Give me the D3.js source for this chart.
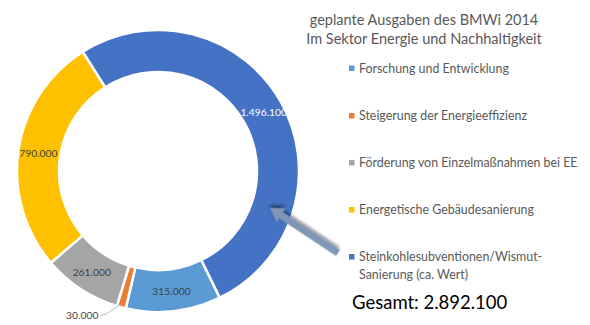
<!DOCTYPE html>
<html><head><meta charset="utf-8">
<script src="https://cdn.jsdelivr.net/npm/d3@7"></script>
<style>body{margin:0;background:#fff}svg{display:block}text{font-family:Lato,"Open Sans",sans-serif}</style>
</head><body><svg id="c" width="590" height="325"></svg>
<script>
const categories = ["Forschung und Entwicklung","Steigerung der Energieeffizienz","Förderung von Einzelmaßnahmen bei EE","Energetische Gebäudesanierung","Steinkohlesubventionen/Wismut-Sanierung (ca. Wert)"];
const values = [315000, 30000, 261000, 790000, 1496100];
const labels = ["315.000","30.000","261.000","790.000","1.496.100"];
const colors = ["#5b9bd5","#ed7d31","#a5a5a5","#ffc000","#4472c4"];
const titleLines = ["geplante Ausgaben des BMWi 2014","Im Sektor Energie und Nachhaltigkeit"];
const totalLabel = "Gesamt: 2.892.100";

const svg = d3.select("#c");
const cx = 158, cy = 171, R = 141, r = 99;
const startA = 154 * Math.PI / 180;
const pie = d3.pie().sort(null).value(d => d).startAngle(startA).endAngle(startA + 2*Math.PI);
const arcs = pie(values);
const arc = d3.arc().innerRadius(r).outerRadius(R);
const g = svg.append("g").attr("transform", `translate(${cx},${cy})`);
g.selectAll("path").data(arcs).join("path")
  .attr("d", arc).attr("fill", (d,i) => colors[i])
  .attr("stroke", "#fff").attr("stroke-width", 2.5);

// data labels
const lblArc = d3.arc().innerRadius((R + r)/2 + 1).outerRadius((R + r)/2 + 1);
arcs.forEach((d, i) => {
  if (i === 1) return;
  const [x, y] = lblArc.centroid(d);
  g.append("text").attr("x", x).attr("y", y).attr("dy", "0.35em")
    .attr("text-anchor", "middle").attr("font-size", 10.3)
    .attr("fill", i === 4 ? "#ffffff" : "#404040").text(labels[i]);
});
// small slice label with leader
{
  const d = arcs[1];
  const a = (d.startAngle + d.endAngle) / 2;
  const px = (R - 4) * Math.sin(a), py = -(R - 4) * Math.cos(a);
  const lx = px - 22, ly = py + 12.5;
  g.append("polyline").attr("points", `${px},${py} ${lx+6},${ly-2} ${lx},${ly}`)
    .attr("fill", "none").attr("stroke", "#a6a6a6").attr("stroke-width", 0.8);
  g.append("text").attr("x", lx - 2).attr("y", ly).attr("dy", "0.35em")
    .attr("text-anchor", "end").attr("font-size", 10.3).attr("fill", "#404040").text(labels[1]);
}

// title
svg.append("g").selectAll("text").data(titleLines).join("text")
  .attr("x", 424).attr("y", (d,i) => 25 + i*19).attr("text-anchor", "middle")
  .attr("font-size", 14.5).attr("fill", "#595959").text(d => d);

// legend
const legY = [68.5, 116, 163, 210, 257];
const leg = svg.append("g");
categories.forEach((c, i) => {
  leg.append("rect").attr("x", 349).attr("y", legY[i] - 3).attr("width", 5.5).attr("height", 5.5).attr("fill", colors[i]);
  const parts = i === 4 ? ["Steinkohlesubventionen/Wismut-", "Sanierung (ca. Wert)"] : [c];
  parts.forEach((p, j) => {
    leg.append("text").attr("x", 359).attr("y", legY[i] + j*18).attr("dy", "0.35em")
      .attr("font-size", 12.4).attr("fill", "#595959").text(p);
  });
});

svg.append("text").attr("x", 352).attr("y", 303).attr("dy", "0.35em")
  .attr("font-size", 18.5).attr("fill", "#000").text(totalLabel);

// arrow
const defs = svg.append("defs");
const f = defs.append("filter").attr("id", "sh").attr("x", "-20%").attr("y", "-20%").attr("width", "150%").attr("height", "150%");
f.append("feDropShadow").attr("dx", 2).attr("dy", 2).attr("stdDeviation", 1.5).attr("flood-color", "#000").attr("flood-opacity", 0.5);
const tail = [338, 253], tip = [270, 208];
const ang = Math.atan2(tip[1]-tail[1], tip[0]-tail[0]);
const L = Math.hypot(tip[0]-tail[0], tip[1]-tail[1]);
const hw = 3.5, HW = 8, HL = 13;
const pts = [[0,-hw],[L-HL,-hw],[L-HL,-HW],[L,0],[L-HL,HW],[L-HL,hw],[0,hw]];
svg.append("polygon")
  .attr("points", pts.map(p => p.join(",")).join(" "))
  .attr("transform", `translate(${tail[0]},${tail[1]}) rotate(${ang*180/Math.PI})`)
  .attr("fill", "#8096b6").attr("filter", "url(#sh)");
</script></body></html>
